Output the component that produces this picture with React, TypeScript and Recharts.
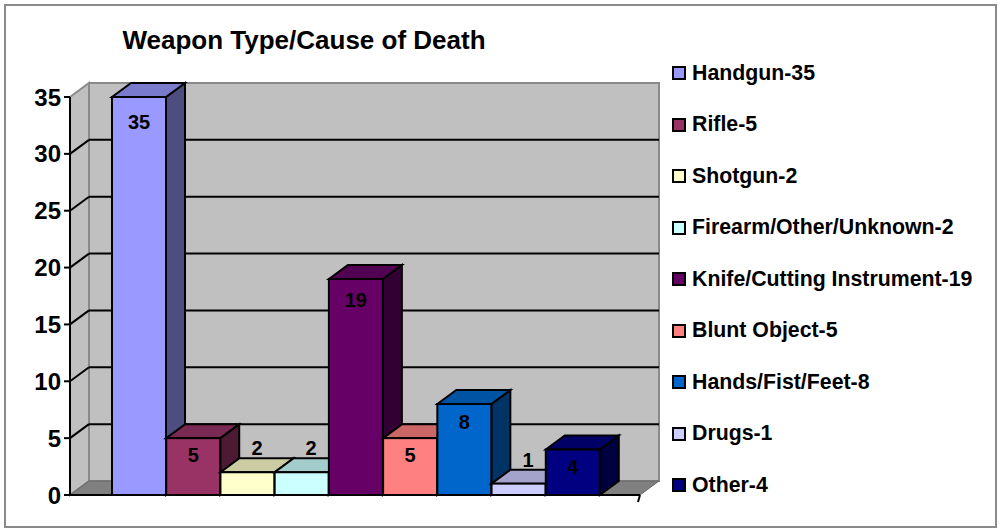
import React from "react";
import { BarChart, Bar, XAxis, YAxis, CartesianGrid, LabelList, Cell } from "recharts";

const categories = [
  "Handgun",
  "Rifle",
  "Shotgun",
  "Firearm/Other/Unknown",
  "Knife/Cutting Instrument",
  "Blunt Object",
  "Hands/Fist/Feet",
  "Drugs",
  "Other",
];
const counts = [35, 5, 2, 2, 19, 5, 8, 1, 4];
const barColors = [
  "#9999FF",
  "#993366",
  "#FFFFCC",
  "#CCFFFF",
  "#660066",
  "#FF8080",
  "#0066CC",
  "#CCCCFF",
  "#000080",
];
const yTicks = [0, 5, 10, 15, 20, 25, 30, 35];

const data = categories.map((name, i) => ({ name, value: counts[i], color: barColors[i] }));

const FONT = '"Liberation Sans", Arial, sans-serif';
// 3d depth offset
const DX = 19;
const DY = -14;

function shade(hex: string, k: number) {
  const n = parseInt(hex.slice(1), 16);
  const r = Math.round(((n >> 16) & 255) * k);
  const g = Math.round(((n >> 8) & 255) * k);
  const b = Math.round((n & 255) * k);
  return `rgb(${r},${g},${b})`;
}

function Box3D(props: any) {
  const { x, y, width: w, height: h, fill } = props;
  if (w == null || h == null) return null;
  return (
    <g stroke="#000" strokeWidth={2} strokeLinejoin="miter">
      <polygon
        points={`${x + w},${y} ${x + w + DX},${y + DY} ${x + w + DX},${y + h + DY} ${x + w},${y + h}`}
        fill={shade(fill, 0.5)}
      />
      <polygon
        points={`${x},${y} ${x + DX},${y + DY} ${x + w + DX},${y + DY} ${x + w},${y}`}
        fill={shade(fill, 0.8)}
      />
      <rect x={x} y={y} width={w} height={h} fill={fill} />
    </g>
  );
}

// side wall, back wall and floor, drawn with the bottom grid line (first one rendered)
function Walls({ x, y, w, h }: { x: number; y: number; w: number; h: number }) {
  return (
    <g>
      <polygon
        points={`${x},${y} ${x + DX},${y + DY} ${x + DX},${y + h + DY} ${x},${y + h}`}
        fill="#C0C0C0"
        stroke="#8a8a8a"
        strokeWidth={2}
      />
      <rect x={x + DX} y={y + DY} width={w} height={h} fill="#C0C0C0" stroke="#8a8a8a" strokeWidth={2} />
      <polygon
        points={`${x},${y + h} ${x + DX},${y + h + DY} ${x + w + DX},${y + h + DY} ${x + w},${y + h}`}
        fill="#808080"
        stroke="#666"
        strokeWidth={1}
      />
      <line x1={x + w} y1={y + h} x2={x + w - 2} y2={y + h + 7} stroke="#000" strokeWidth={2} />
    </g>
  );
}

function GridLine(props: any) {
  const { x1, y1, x2, x, y, width, height } = props;
  if (Math.abs(y1 - (y + height)) < 1) return <Walls x={x} y={y} w={width} h={height} />;
  if (Math.abs(y1 - y) < 1) return <g />;
  return (
    <g stroke="#000" strokeWidth={2}>
      <line x1={x1} y1={y1} x2={x1 + DX} y2={y1 + DY} />
      <line x1={x1 + DX} y1={y1 + DY} x2={x2 + DX} y2={y1 + DY} />
    </g>
  );
}

function BarLabel(props: any) {
  const { x, y, width, value } = props;
  const small = value < 3;
  const cx = small ? x + width / 2 + DX / 2 : x + width / 2;
  const cy = small ? y - 24 : y + 16 + value * 0.25;
  return (
    <text
      x={cx}
      y={cy}
      textAnchor="middle"
      dominantBaseline="central"
      fontFamily={FONT}
      fontWeight="bold"
      fontSize={20}
      fill="#000"
    >
      {value}
    </text>
  );
}

export default function App() {
  return (
    <div style={{ position: "fixed", left: 0, top: 0, width: 1000, height: 531, background: "#fff" }}>
      <div
        style={{
          position: "absolute",
          left: 4,
          top: 4,
          width: 989,
          height: 520,
          border: "2px solid #8a8a8a",
        }}
      />
      <div
        style={{
          position: "absolute",
          left: 0,
          width: 608,
          top: 24,
          textAlign: "center",
          fontFamily: FONT,
          fontWeight: "bold",
          fontSize: 26,
          lineHeight: "32px",
        }}
      >
        Weapon Type/Cause of Death
      </div>
      <BarChart
        width={1000}
        height={531}
        data={data}
        margin={{ top: 97, right: 360, bottom: 6, left: 0 }}
        barCategoryGap={0}
        style={{ position: "absolute", left: 0, top: 0 }}
      >
        <CartesianGrid vertical={false} horizontal={GridLine} />
        <XAxis
          dataKey="name"
          tick={false}
          tickLine={false}
          axisLine={{ stroke: "#000", strokeWidth: 2 }}
          padding={{ left: 42, right: 40 }}
          height={30}
        />
        <YAxis
          width={70}
          domain={[0, 35]}
          ticks={yTicks}
          interval={0}
          tickSize={6}
          tickMargin={3}
          axisLine={{ stroke: "#000", strokeWidth: 2 }}
          tickLine={{ stroke: "#000", strokeWidth: 2 }}
          tick={{ fill: "#000", fontFamily: FONT, fontWeight: "bold", fontSize: 24 }}
        />
        <Bar dataKey="value" shape={Box3D} isAnimationActive={false}>
          {data.map((d, i) => (
            <Cell key={i} fill={d.color} />
          ))}
          <LabelList dataKey="value" content={BarLabel} />
        </Bar>
      </BarChart>
      <div style={{ position: "absolute", left: 672, top: 0 }}>
        {data.map((d, i) => (
          <div
            key={i}
            style={{
              position: "absolute",
              left: 0,
              top: 73 + i * 51.5 - 14,
              height: 28,
              display: "flex",
              alignItems: "center",
              whiteSpace: "nowrap",
              fontFamily: FONT,
              fontWeight: "bold",
              fontSize: 21.3,
            }}
          >
            <span
              style={{
                display: "inline-block",
                width: 10,
                height: 10,
                border: "2px solid #000",
                background: d.color,
                marginRight: 6,
              }}
            />
            {`${d.name}-${d.value}`}
          </div>
        ))}
      </div>
    </div>
  );
}
